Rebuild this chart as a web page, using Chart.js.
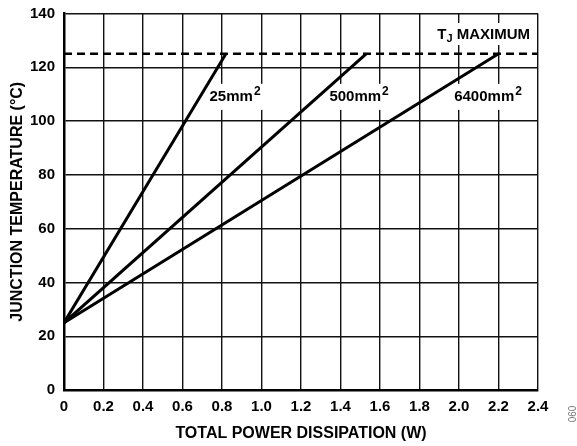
<!DOCTYPE html>
<html>
<head>
<meta charset="utf-8">
<script src="https://cdn.jsdelivr.net/npm/chart.js@4"></script>
<style>
  html, body { margin: 0; padding: 0; background: #fff; }
  #wrap { width: 577px; height: 446px; }
</style>
</head>
<body>
<div id="wrap"><canvas id="tjChart" width="577" height="446"></canvas></div>
<script>
// board copper areas and the power at which each reaches TJ max
const boardAreas = ['25mm', '500mm', '6400mm'];
const startPower = [0, 0, 0];
const startTemp = [25, 25, 25];
const powerAtTjMax = [0.82, 1.53, 2.2];
const tjMax = 125;
const xTicks = [0, 0.2, 0.4, 0.6, 0.8, 1.0, 1.2, 1.4, 1.6, 1.8, 2.0, 2.2, 2.4];
const yTicks = [0, 20, 40, 60, 80, 100, 120, 140];

const FONT = '"Liberation Sans", Arial, sans-serif';

let datasets = boardAreas.map(function (name, i) {
  return {
    label: name,
    data: [{x: startPower[i], y: startTemp[i]}, {x: powerAtTjMax[i], y: tjMax}],
    borderColor: '#000',
    borderWidth: 3,
    pointRadius: 0,
    tension: 0
  };
});
datasets.push({
  label: 'TJ MAXIMUM',
  data: [{x: xTicks[0], y: tjMax}, {x: xTicks[xTicks.length - 1], y: tjMax}],
  borderColor: '#000',
  borderWidth: 2.5,
  borderDash: [8, 5],
  pointRadius: 0
});

// label centres in data units (x, y)
const labelSpots = [[0.866, 109], [1.494, 109], [2.147, 109]];

const labelPlugin = {
  id: 'labels',
  beforeDatasetsDraw(chart) {
    const ctx = chart.ctx;
    const xs = chart.scales.x, ys = chart.scales.y;
    ctx.save();
    ctx.textBaseline = 'middle';
    ctx.textAlign = 'left';
    boardAreas.forEach(function (name, i) {
      const px = xs.getPixelForValue(labelSpots[i][0]);
      const py = ys.getPixelForValue(labelSpots[i][1]);
      ctx.font = 'bold 15px ' + FONT;
      const w1 = ctx.measureText(name).width;
      ctx.font = 'bold 12px ' + FONT;
      const w2 = ctx.measureText('2').width;
      const w = w1 + w2 + 1;
      ctx.fillStyle = '#fff';
      ctx.fillRect(px - w / 2 - 4, py - 13, w + 8, 26);
      ctx.fillStyle = '#000';
      ctx.font = 'bold 15px ' + FONT;
      ctx.fillText(name, px - w / 2, py);
      ctx.font = 'bold 12px ' + FONT;
      ctx.fillText('2', px - w / 2 + w1 + 1, py - 5);
    });
    // TJ MAXIMUM label
    const right = xs.getPixelForValue(2.36);
    const ty = ys.getPixelForValue(132);
    ctx.font = 'bold 15px ' + FONT;
    const wT = ctx.measureText('T').width;
    const wM = ctx.measureText(' MAXIMUM').width;
    ctx.font = 'bold 11px ' + FONT;
    const wJ = ctx.measureText('J').width;
    const total = wT + wJ + wM;
    const left = right - total;
    ctx.fillStyle = '#fff';
    ctx.fillRect(left - 3, ty - 12, total + 6, 22);
    ctx.fillStyle = '#000';
    ctx.font = 'bold 15px ' + FONT;
    ctx.fillText('T', left, ty);
    ctx.fillText(' MAXIMUM', left + wT + wJ, ty);
    ctx.font = 'bold 11px ' + FONT;
    ctx.fillText('J', left + wT, ty + 4);
    ctx.restore();
  },
  afterDraw(chart) {
    const ctx = chart.ctx;
    ctx.save();
    ctx.translate(573, 414);
    ctx.rotate(-Math.PI / 2);
    ctx.font = '10px ' + FONT;
    ctx.fillStyle = '#777';
    ctx.textAlign = 'center';
    ctx.textBaseline = 'middle';
    ctx.fillText('060', 0, 0);
    ctx.restore();
  }
};

new Chart(document.getElementById('tjChart'), {
  type: 'line',
  data: { datasets: datasets },
  options: {
    responsive: false,
    animation: false,
    layout: { padding: { top: 13.5, right: 39, bottom: 0, left: 0 } },
    plugins: {
      legend: { display: false },
      tooltip: { enabled: false }
    },
    scales: {
      x: {
        type: 'linear',
        min: 0,
        max: 2.4,
        afterFit: function (s) { s.height = 56; s.paddingLeft = 0; s.paddingRight = 0; },
        afterBuildTicks: function (s) { s.ticks = xTicks.map(v => ({value: v})); },
        ticks: {
          padding: 8,
          color: '#000',
          font: { family: FONT, size: 15, weight: 'bold' },
          callback: v => v === 0 ? '0' : v.toFixed(1)
        },
        grid: { color: '#111', lineWidth: 1.4, drawTicks: false },
        border: { color: '#000', width: 2.5 },
        title: {
          display: true,
          text: 'TOTAL POWER DISSIPATION (W)',
          color: '#000',
          font: { family: FONT, size: 16, weight: 'bold' },
          padding: { top: 0, bottom: 3 }
        }
      },
      y: {
        min: 0,
        max: 140,
        afterFit: function (s) { s.width = 64; s.paddingTop = 0; s.paddingBottom = 0; },
        afterBuildTicks: function (s) { s.ticks = yTicks.map(v => ({value: v})); },
        ticks: {
          padding: 9,
          color: '#000',
          font: { family: FONT, size: 15, weight: 'bold' }
        },
        grid: { color: '#111', lineWidth: 1.4, drawTicks: false },
        border: { color: '#000', width: 2.5 },
        title: {
          display: true,
          text: 'JUNCTION TEMPERATURE (°C)',
          color: '#000',
          font: { family: FONT, size: 16, weight: 'bold' },
          padding: { top: 8, bottom: 0 }
        }
      }
    }
  },
  plugins: [labelPlugin]
});
</script>
</body>
</html>
